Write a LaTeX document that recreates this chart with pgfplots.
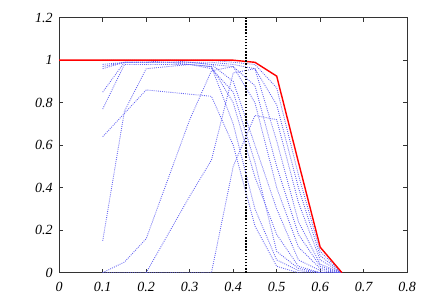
\documentclass[border=0pt]{standalone}
\usepackage{fontspec}
\setmainfont{Liberation Serif}
\usepackage{pgfplots}
\pgfplotsset{compat=1.18}
\definecolor{dotblue}{RGB}{60,60,240}
\begin{document}
\begin{tikzpicture}
\path[use as bounding box] (-59.2pt,-29.3pt) rectangle (372.8pt,272.7pt);
\begin{axis}[
  scale only axis,
  width=348pt, height=255pt,
  xmin=0, xmax=0.8, ymin=0, ymax=1.2,
  xtick={0,0.1,0.2,0.3,0.4,0.5,0.6,0.7,0.8},
  ytick={0,0.2,0.4,0.6,0.8,1,1.2},
  tick align=inside,
  major tick length=4pt,
  axis line style={black!80, line width=0.5pt},
  tick style={black!80, line width=0.5pt},
  ticklabel style={font=\fontsize{14}{16}\selectfont\itshape},
  xticklabel style={yshift=-6pt},
  yticklabel style={xshift=-3pt},
  /pgf/number format/assume math mode=true,
  clip=true,
  blueline/.style={dotblue!80!white, line width=0.85pt, dash pattern=on 0.9pt off 1.2pt},
]
% blue dotted curves
\addplot[blueline] coordinates {(0.1,1.0) (0.15,1.0) (0.2,1.0) (0.25,1.0) (0.3,1.0) (0.35,1.0) (0.4,0.99) (0.45,0.98) (0.5,0.87) (0.55,0.46) (0.6,0.10) (0.65,0)};
\addplot[blueline] coordinates {(0.1,0.98) (0.15,0.99) (0.2,0.99) (0.25,1.0) (0.3,0.99) (0.35,0.99) (0.4,0.98) (0.45,0.96) (0.5,0.79) (0.55,0.40) (0.6,0.08) (0.65,0)};
\addplot[blueline] coordinates {(0.1,0) (0.15,0) (0.2,0) (0.25,0) (0.3,0) (0.35,0) (0.4,0.50) (0.45,0.74) (0.5,0.72) (0.55,0.33) (0.6,0.06) (0.65,0)};
\addplot[blueline] coordinates {(0.2,0) (0.25,0.18) (0.3,0.36) (0.35,0.53) (0.4,0.94) (0.45,0.96) (0.5,0.62) (0.55,0.24) (0.6,0.04) (0.65,0)};
\addplot[blueline] coordinates {(0.1,0) (0.15,0.05) (0.2,0.16) (0.25,0.44) (0.3,0.72) (0.35,0.95) (0.4,0.97) (0.45,0.88) (0.5,0.50) (0.55,0.18) (0.6,0.03) (0.65,0)};
\addplot[blueline] coordinates {(0.1,0.96) (0.15,0.99) (0.2,0.99) (0.25,0.99) (0.3,0.99) (0.35,0.98) (0.4,0.97) (0.45,0.80) (0.5,0.40) (0.55,0.12) (0.6,0.02) (0.65,0)};
\addplot[blueline] coordinates {(0.1,0.85) (0.15,0.99) (0.2,0.99) (0.25,0.99) (0.3,0.99) (0.35,0.98) (0.4,0.90) (0.45,0.60) (0.5,0.30) (0.55,0.06) (0.6,0.01) (0.65,0)};
\addplot[blueline] coordinates {(0.1,0.77) (0.15,0.98) (0.2,0.98) (0.25,0.98) (0.3,0.98) (0.35,0.97) (0.4,0.80) (0.45,0.45) (0.5,0.18) (0.55,0.03) (0.6,0) (0.65,0)};
\addplot[blueline] coordinates {(0.1,0.15) (0.15,0.76) (0.2,0.96) (0.25,0.97) (0.3,0.98) (0.35,0.97) (0.4,0.70) (0.45,0.30) (0.5,0.06) (0.55,0.01) (0.6,0) (0.65,0)};
\addplot[blueline] coordinates {(0.1,0.64) (0.15,0.75) (0.2,0.86) (0.25,0.85) (0.3,0.84) (0.35,0.83) (0.4,0.60) (0.45,0.22) (0.5,0.03) (0.55,0) (0.6,0) (0.65,0)};
\addplot[blueline] coordinates {(0.1,0.97) (0.15,0.99) (0.2,0.99) (0.25,0.99) (0.3,0.98) (0.35,0.96) (0.4,0.85) (0.45,0.52) (0.5,0.10) (0.55,0.02) (0.6,0) (0.65,0)};
% envelope
\addplot[red, line width=1.4pt] coordinates {(0,1) (0.1,1) (0.15,1) (0.2,1) (0.25,1) (0.3,1) (0.35,1) (0.4,1) (0.45,0.99) (0.5,0.925) (0.55,0.52) (0.6,0.12) (0.65,0)};
% vertical marker
\addplot[black, line width=1.7pt, dash pattern=on 1.5pt off 1.6pt] coordinates {(0.43,0) (0.43,1.2)};
\end{axis}
\end{tikzpicture}
\end{document}
